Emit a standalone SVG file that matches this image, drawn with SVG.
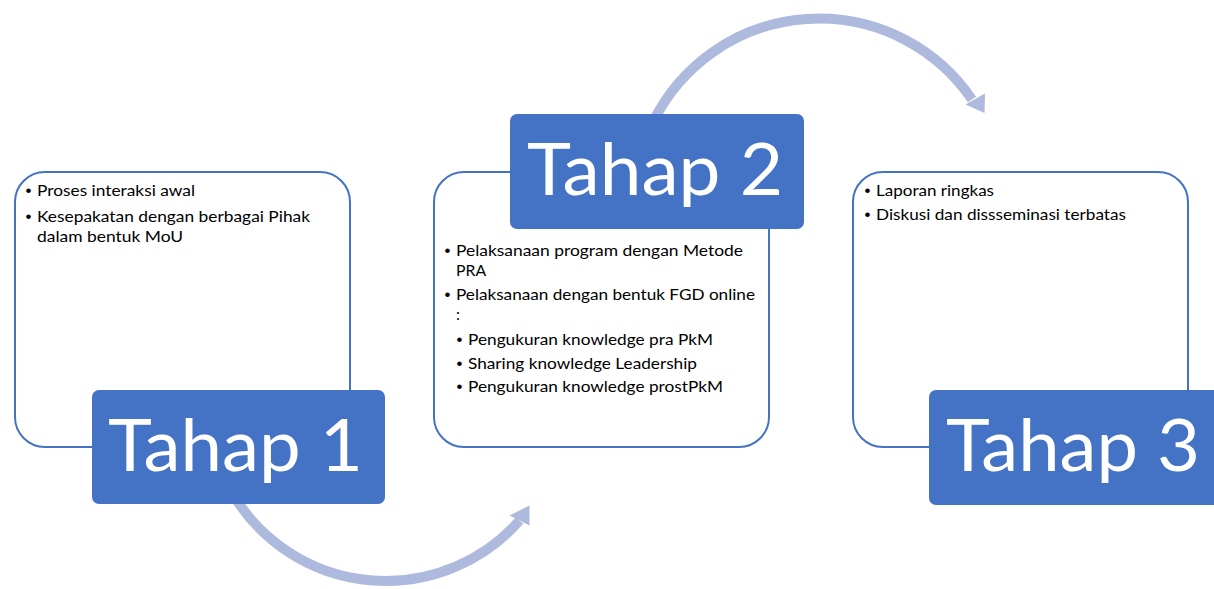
<svg xmlns="http://www.w3.org/2000/svg" width="1214" height="589" viewBox="0 0 1214 589">
<style>
.frame{fill:#FFFFFF;stroke:#4472C4;stroke-width:2}
.head{fill:#4472C4}
.big{font-family:Lato,"Open Sans","Liberation Sans",sans-serif;font-size:72px;fill:#FFFFFF}
.t{font-family:Lato,"Open Sans","Liberation Sans",sans-serif;font-size:15.8px;fill:#000000}
.b{font-family:"Liberation Sans",Arial,sans-serif;font-size:17px;fill:#000000}
.arc{fill:none;stroke:#AEBADD;stroke-width:10}
.tip{fill:#AEBADD}
</style>
<rect width="1214" height="589" fill="#FFFFFF"/>
<g id="connectors">
  <path class="arc" d="M233.4,495 A178,178 0 0 0 519.5,520.5"/>
  <polygon class="tip" points="509.5,515.5 529.5,505.5 529.5,525.5"/>
  <path class="arc" d="M654,120 A185,185 0 0 1 972,99.5"/>
  <polygon class="tip" points="965.5,104.5 985,93.5 984.5,113"/>
</g>
<g id="tahap1">
  <rect class="frame" x="15" y="172" width="335" height="275" rx="30"/>
  <text class="b" x="25.5" y="196">•</text>
  <text class="t" x="37" y="196" textLength="158" lengthAdjust="spacingAndGlyphs">Proses interaksi awal</text>
  <text class="b" x="25.5" y="221.5">•</text>
  <text class="t" x="37" y="221.5" textLength="273" lengthAdjust="spacingAndGlyphs">Kesepakatan dengan berbagai Pihak</text>
  <text class="t" x="37" y="241.5" textLength="146" lengthAdjust="spacingAndGlyphs">dalam bentuk MoU</text>
  <rect class="head" x="92" y="390" width="293" height="114" rx="7"/>
  <text class="big" x="108" y="471" textLength="255" lengthAdjust="spacingAndGlyphs">Tahap 1</text>
</g>
<g id="tahap2">
  <rect class="frame" x="434" y="172" width="335" height="275" rx="30"/>
  <text class="b" x="444.5" y="256">•</text>
  <text class="t" x="456" y="256" textLength="287" lengthAdjust="spacingAndGlyphs">Pelaksanaan program dengan Metode</text>
  <text class="t" x="456" y="275.5">PRA</text>
  <text class="b" x="444.5" y="300">•</text>
  <text class="t" x="456" y="300" textLength="299" lengthAdjust="spacingAndGlyphs">Pelaksanaan dengan bentuk FGD online</text>
  <text class="t" x="456" y="320">:</text>
  <text class="b" x="456.5" y="345">•</text>
  <text class="t" x="468" y="345" textLength="245" lengthAdjust="spacingAndGlyphs">Pengukuran knowledge pra PkM</text>
  <text class="b" x="456.5" y="368.5">•</text>
  <text class="t" x="468" y="368.5" textLength="229" lengthAdjust="spacingAndGlyphs">Sharing knowledge Leadership</text>
  <text class="b" x="456.5" y="392">•</text>
  <text class="t" x="468" y="392" textLength="255" lengthAdjust="spacingAndGlyphs">Pengukuran knowledge prostPkM</text>
  <rect class="head" x="510" y="114" width="294" height="115" rx="7"/>
  <text class="big" x="527" y="195" textLength="256" lengthAdjust="spacingAndGlyphs">Tahap 2</text>
</g>
<g id="tahap3">
  <rect class="frame" x="853" y="172" width="335" height="275" rx="30"/>
  <text class="b" x="864.5" y="195.5">•</text>
  <text class="t" x="876" y="195.5" textLength="118" lengthAdjust="spacingAndGlyphs">Laporan ringkas</text>
  <text class="b" x="864.5" y="220">•</text>
  <text class="t" x="876" y="220" textLength="250" lengthAdjust="spacingAndGlyphs">Diskusi dan dissseminasi terbatas</text>
  <rect class="head" x="929" y="390" width="294" height="115" rx="7"/>
  <text class="big" x="946" y="471" textLength="254" lengthAdjust="spacingAndGlyphs">Tahap 3</text>
</g>
</svg>
